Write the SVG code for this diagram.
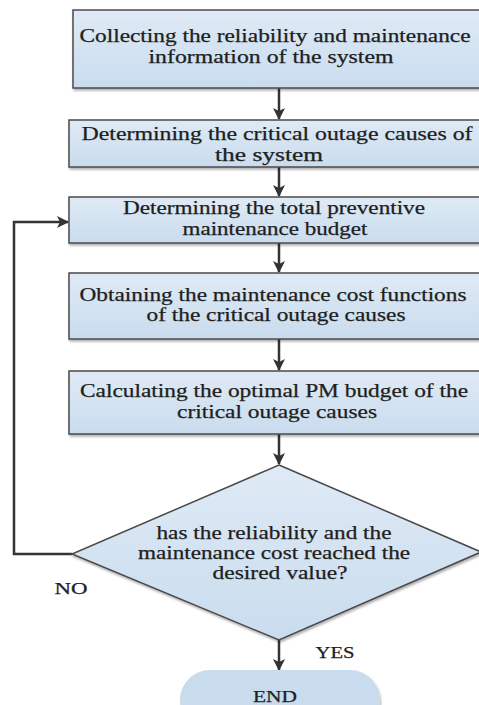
<svg xmlns="http://www.w3.org/2000/svg" width="479" height="705" viewBox="0 0 479 705">
<style>
.box{fill:url(#g);stroke:#4a4a4a;stroke-width:1.5;filter:url(#sh)}
.t{font-family:"Liberation Serif","DejaVu Serif",serif;font-size:18px;fill:#1e1e1e;stroke:#1e1e1e;stroke-width:0.25;text-anchor:middle}
.s{font-size:16px}
.c{stroke:#333;stroke-width:2.5;fill:none}
</style>
<defs>
<linearGradient id="g" x1="0" y1="0" x2="0" y2="1">
<stop offset="0" stop-color="#dfeaf5"/>
<stop offset="1" stop-color="#c9dcee"/>
</linearGradient>
<filter id="sh" x="-5%" y="-10%" width="110%" height="130%">
<feDropShadow dx="1" dy="2" stdDeviation="1" flood-color="#000" flood-opacity="0.3"/>
</filter>
<marker id="ah" markerWidth="12" markerHeight="12" refX="11" refY="6" orient="auto" markerUnits="userSpaceOnUse">
<path d="M0,0 L12,6 L0,12 L3,6 z" fill="#333"/>
</marker>
</defs>
<rect width="479" height="705" fill="#fff"/>
<g id="connectors">
<line class="c" x1="279" y1="88" x2="279" y2="119" marker-end="url(#ah)"/>
<line class="c" x1="279" y1="167" x2="279" y2="196" marker-end="url(#ah)"/>
<line class="c" x1="279" y1="243" x2="279" y2="272" marker-end="url(#ah)"/>
<line class="c" x1="279" y1="339" x2="279" y2="370" marker-end="url(#ah)"/>
<line class="c" x1="279" y1="434" x2="279" y2="464" marker-end="url(#ah)"/>
<line class="c" x1="279" y1="640" x2="279" y2="670" marker-end="url(#ah)"/>
<polyline class="c" points="72,554 14,554 14,222 68,222" marker-end="url(#ah)"/>
</g>
<g id="n1">
<rect class="box" x="73" y="10" width="410" height="78"/>
<text class="t" x="275" y="42" textLength="391" lengthAdjust="spacingAndGlyphs">Collecting the reliability and maintenance</text>
<text class="t" x="271" y="63" textLength="245" lengthAdjust="spacingAndGlyphs">information of the system</text>
</g>
<g id="n2">
<rect class="box" x="69" y="120" width="414" height="47"/>
<text class="t" x="277" y="140" textLength="391" lengthAdjust="spacingAndGlyphs">Determining the critical outage causes  of</text>
<text class="t" x="269" y="161" textLength="108" lengthAdjust="spacingAndGlyphs">the system</text>
</g>
<g id="n3">
<rect class="box" x="69" y="197" width="414" height="46"/>
<text class="t" x="274" y="214" textLength="302" lengthAdjust="spacingAndGlyphs">Determining the total preventive</text>
<text class="t" x="275" y="235" textLength="185" lengthAdjust="spacingAndGlyphs">maintenance budget</text>
</g>
<g id="n4">
<rect class="box" x="69" y="273" width="414" height="66"/>
<text class="t" x="273" y="301" textLength="387" lengthAdjust="spacingAndGlyphs">Obtaining the maintenance cost functions</text>
<text class="t" x="276" y="321" textLength="259" lengthAdjust="spacingAndGlyphs">of the critical outage causes</text>
</g>
<g id="n5">
<rect class="box" x="69" y="371" width="414" height="63"/>
<text class="t" x="274" y="397" textLength="388" lengthAdjust="spacingAndGlyphs">Calculating the optimal PM budget of the</text>
<text class="t" x="277" y="418" textLength="200" lengthAdjust="spacingAndGlyphs">critical outage causes</text>
</g>
<g id="d1">
<polygon class="box" points="279,465 481,552 279,640 72,554"/>
<text class="t" x="274" y="539" textLength="235" lengthAdjust="spacingAndGlyphs">has the reliability and the</text>
<text class="t" x="274" y="559" textLength="272" lengthAdjust="spacingAndGlyphs">maintenance cost reached the</text>
<text class="t" x="280" y="579" textLength="135" lengthAdjust="spacingAndGlyphs">desired value?</text>
</g>
<g id="lbl">
<text class="t s" x="71" y="594" textLength="33" lengthAdjust="spacingAndGlyphs">NO</text>
<text class="t s" x="335" y="658" textLength="39" lengthAdjust="spacingAndGlyphs">YES</text>
</g>
<g id="end">
<rect x="180" y="670" width="200" height="60" rx="30" fill="#c8dcee" filter="url(#sh)"/>
<text class="t s" x="275" y="702" textLength="44" lengthAdjust="spacingAndGlyphs">END</text>
</g>
</svg>
